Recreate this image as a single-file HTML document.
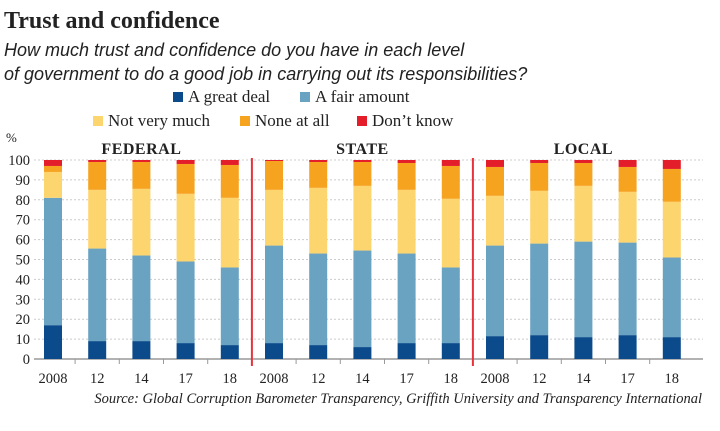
<!DOCTYPE html>
<html><head><meta charset="utf-8"><style>
body{margin:0;background:#fff;width:720px;height:426px;overflow:hidden;font-family:"Liberation Serif",serif}
svg text{font-family:"Liberation Serif",serif;fill:#222}
</style></head><body>
<svg id="c" width="720" height="426">
<text x="4" y="28" font-size="24" font-weight="bold">Trust and confidence</text>
<text x="4" y="56" font-size="18" font-style="italic" style="font-family:'Liberation Sans',sans-serif" fill="#333">How much trust and confidence do you have in each level</text>
<text x="4" y="80" font-size="18" font-style="italic" style="font-family:'Liberation Sans',sans-serif" fill="#333">of government to do a good job in carrying out its responsibilities?</text>
<g id="legend"></g>
<g id="plot"></g>
<text x="702" y="403" font-size="14.5" font-style="italic" text-anchor="end" fill="#333">Source: Global Corruption Barometer Transparency, Griffith University and Transparency International</text>
</svg>
<script>
const groups=["FEDERAL","STATE","LOCAL"];
const years=["2008","12","14","17","18"];
const seriesNames=["A great deal","A fair amount","Not very much","None at all","Don’t know"];
const yTicks=[0,10,20,30,40,50,60,70,80,90,100];
const greatDeal=[17,9,9,8,7, 8,7,6,8,8, 11.5,12,11,12,11];
const fairAmount=[64,46.5,43,41,39, 49,46,48.5,45,38, 45.5,46,48,46.5,40];
const notVeryMuch=[13,29.5,33.5,34,35, 28,33,32.5,32,34.5, 25,26.5,28,25.5,28];
const noneAtAll=[3,14,13.5,15,16.5, 14.5,13,12,13.5,16.5, 14.5,14,11.5,12.5,16.5];
const dontKnow=[3,1,1,2,2.5, 0.5,1,1,1.5,3, 3.5,1.5,1.5,3.5,4.5];
const series=[greatDeal,fairAmount,notVeryMuch,noneAtAll,dontKnow];
const colors=["#0b4b8c","#6aa3c2","#fdd56f","#f6a320","#e31e2a"];
const NS="http://www.w3.org/2000/svg";
const plot=document.getElementById('plot'),leg=document.getElementById('legend');
function mk(tag,attrs,parent){const e=document.createElementNS(NS,tag);for(const k in attrs)e.setAttribute(k,attrs[k]);parent.appendChild(e);return e;}
const y0=359,y1=160;
const yScale=v=>y0-(v/100)*(y0-y1);
const x0=53,step=44.2;
const xScale=i=>x0+i*step;
yTicks.forEach(t=>{
 const g=mk('line',{x1:34,x2:703,y1:yScale(t),y2:yScale(t),stroke:t===0?'#999':'#ccc','stroke-width':t===0?1.5:1,'stroke-dasharray':t===0?'':'2,2'},plot);
 
 
 const tx=mk('text',{x:30,y:yScale(t)+5,'text-anchor':'end','font-size':14.5},plot);
 tx.textContent=t;
 
 
});
const pct=mk('text',{x:6,y:142,'font-size':13},plot);pct.textContent='%';


const n=greatDeal.length,bw=18;
for(let i=0;i<n;i++){
 let cum=0;const cx=xScale(i);
 series.forEach((s,k)=>{
  const r=mk('rect',{x:cx-bw/2,y:yScale(cum+s[i]),width:bw,height:yScale(cum)-yScale(cum+s[i]),fill:colors[k]},plot);
  
  
  cum+=s[i];
 });
 const lb=mk('text',{x:cx,y:383,'text-anchor':'middle','font-size':14.5},plot);
 lb.textContent=years[i%5];
 
 
 if(i>0&&i%5!==0){const tk=mk('line',{x1:cx-step/2,x2:cx-step/2,y1:y0,y2:y0+5,stroke:'#999'},plot);
 
 }
}
groups.forEach((g,j)=>{
 const t=mk('text',{x:xScale(j*5+2),y:154,'text-anchor':'middle','font-size':16,'font-weight':'bold','letter-spacing':'0.5'},plot);
 t.textContent=g;
 
 
 if(j>0){const d=mk('line',{x1:xScale(j*5)-step/2,x2:xScale(j*5)-step/2,y1:158,y2:366,stroke:'#e8323c','stroke-width':2},plot);
 
 }
});
const legPos=[[173,98],[300,98],[93,122],[240,122],[357,122]];
seriesNames.forEach((nm,k)=>{
 const g=mk('g',{},leg);
 
 
 mk('rect',{x:legPos[k][0],y:legPos[k][1]-6,width:10,height:10,fill:colors[k]},g);
 const t=mk('text',{x:legPos[k][0]+15,y:legPos[k][1]+4,'font-size':17},g);
 t.textContent=nm;
});
</script>
</body></html>
